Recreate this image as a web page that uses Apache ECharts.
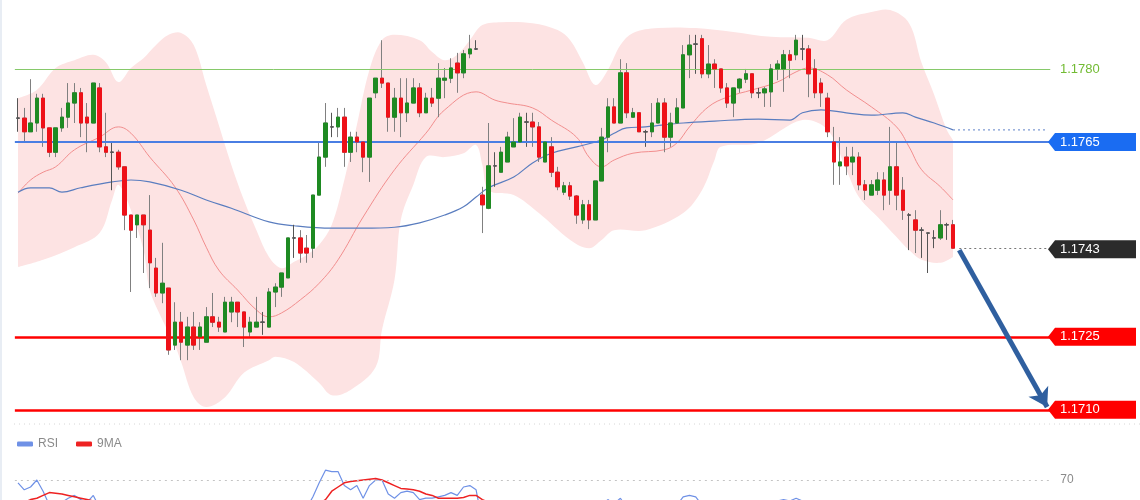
<!DOCTYPE html>
<html><head><meta charset="utf-8">
<script src="https://cdn.jsdelivr.net/npm/echarts@6/dist/echarts.min.js"></script>
<style>html,body{margin:0;padding:0;background:#fff}#c{width:1140px;height:500px}</style>
</head><body><div id="c"></div>
<script>
// ---- data ----
const slotCount = 165; // 150 candles + empty future slots
const categories = Array.from({length: slotCount}, (_, i) => String(i));
// [open, close, low, high]
const ohlc = [
[1.17699,1.17699,1.17671,1.17740],[1.17699,1.17671,1.17650,1.17720],[1.17671,1.17689,1.17671,1.17779],[1.17689,1.17740,1.17671,1.17749],
[1.17740,1.17679,1.17640,1.17749],[1.17679,1.17629,1.17619,1.17679],[1.17629,1.17679,1.17619,1.17679],[1.17679,1.17701,1.17671,1.17720],
[1.17701,1.17730,1.17679,1.17771],[1.17730,1.17751,1.17689,1.17771],[1.17751,1.17689,1.17660,1.17761],[1.17701,1.17689,1.17629,1.17730],
[1.17689,1.17771,1.17689,1.17771],[1.17761,1.17640,1.17629,1.17771],[1.17640,1.17629,1.17619,1.17710],[1.17629,1.17629,1.17551,1.17650],
[1.17629,1.17599,1.17593,1.17634],[1.17599,1.17500,1.17469,1.17599],[1.17500,1.17469,1.17342,1.17500],[1.17480,1.17500,1.17453,1.17500],
[1.17500,1.17480,1.17381,1.17500],[1.17469,1.17402,1.17350,1.17541],[1.17391,1.17340,1.17332,1.17412],[1.17340,1.17360,1.17319,1.17443],
[1.17350,1.17223,1.17213,1.17350],[1.17233,1.17280,1.17223,1.17321],[1.17280,1.17239,1.17202,1.17301],[1.17233,1.17270,1.17202,1.17291],
[1.17270,1.17233,1.17223,1.17301],[1.17250,1.17270,1.17223,1.17280],[1.17239,1.17291,1.17239,1.17311],[1.17291,1.17280,1.17270,1.17340],
[1.17280,1.17270,1.17260,1.17291],[1.17260,1.17321,1.17260,1.17332],[1.17301,1.17321,1.17280,1.17332],[1.17321,1.17301,1.17270,1.17321],
[1.17301,1.17270,1.17229,1.17301],[1.17260,1.17280,1.17250,1.17291],[1.17270,1.17280,1.17270,1.17332],[1.17280,1.17280,1.17254,1.17301],
[1.17270,1.17342,1.17270,1.17350],[1.17342,1.17352,1.17311,1.17360],[1.17352,1.17381,1.17332,1.17381],[1.17371,1.17453,1.17371,1.17453],
[1.17453,1.17453,1.17412,1.17480],[1.17453,1.17422,1.17402,1.17469],[1.17432,1.17422,1.17402,1.17459],[1.17432,1.17541,1.17412,1.17541],
[1.17541,1.17619,1.17541,1.17648],[1.17619,1.17689,1.17599,1.17730],[1.17681,1.17681,1.17660,1.17710],[1.17681,1.17701,1.17660,1.17720],
[1.17701,1.17629,1.17599,1.17720],[1.17629,1.17660,1.17609,1.17671],[1.17660,1.17650,1.17629,1.17671],[1.17650,1.17619,1.17588,1.17650],
[1.17619,1.17740,1.17568,1.17740],[1.17751,1.17781,1.17740,1.17781],[1.17781,1.17771,1.17761,1.17859],[1.17771,1.17701,1.17671,1.17771],
[1.17701,1.17740,1.17671,1.17761],[1.17740,1.17710,1.17660,1.17781],[1.17710,1.17730,1.17691,1.17781],[1.17730,1.17761,1.17730,1.17781],
[1.17761,1.17710,1.17701,1.17771],[1.17710,1.17740,1.17710,1.17751],[1.17740,1.17730,1.17722,1.17761],[1.17740,1.17781,1.17701,1.17812],
[1.17777,1.17781,1.17740,1.17802],[1.17781,1.17802,1.17771,1.17822],[1.17812,1.17792,1.17751,1.17833],[1.17792,1.17831,1.17781,1.17839],
[1.17831,1.17841,1.17822,1.17870],[1.17841,1.17841,1.17839,1.17859],[1.17541,1.17521,1.17463,1.17558],[1.17514,1.17601,1.17512,1.17689],
[1.17601,1.17601,1.17558,1.17629],[1.17588,1.17629,1.17588,1.17640],[1.17609,1.17660,1.17609,1.17671],[1.17640,1.17650,1.17640,1.17699],
[1.17650,1.17701,1.17650,1.17710],[1.17691,1.17691,1.17640,1.17710],[1.17691,1.17681,1.17640,1.17710],[1.17681,1.17619,1.17609,1.17691],
[1.17609,1.17650,1.17609,1.17650],[1.17640,1.17588,1.17578,1.17660],[1.17588,1.17558,1.17551,1.17599],[1.17547,1.17560,1.17541,1.17568],
[1.17560,1.17539,1.17531,1.17568],[1.17539,1.17500,1.17482,1.17541],[1.17490,1.17521,1.17482,1.17531],[1.17521,1.17490,1.17471,1.17531],
[1.17490,1.17570,1.17490,1.17570],[1.17570,1.17660,1.17570,1.17679],[1.17660,1.17722,1.17629,1.17740],[1.17722,1.17689,1.17689,1.17740],
[1.17689,1.17792,1.17689,1.17820],[1.17792,1.17710,1.17699,1.17812],[1.17701,1.17710,1.17701,1.17720],[1.17710,1.17671,1.17671,1.17710],
[1.17671,1.17671,1.17640,1.17675],[1.17671,1.17689,1.17660,1.17730],[1.17689,1.17730,1.17689,1.17740],[1.17730,1.17660,1.17629,1.17740],
[1.17660,1.17689,1.17640,1.17710],[1.17689,1.17720,1.17689,1.17740],[1.17720,1.17829,1.17720,1.17849],[1.17829,1.17849,1.17781,1.17870],
[1.17851,1.17851,1.17790,1.17870],[1.17862,1.17790,1.17781,1.17870],[1.17790,1.17810,1.17781,1.17849],[1.17810,1.17800,1.17761,1.17820],
[1.17800,1.17761,1.17751,1.17800],[1.17761,1.17730,1.17720,1.17771],[1.17730,1.17761,1.17701,1.17761],[1.17761,1.17779,1.17751,1.17781],
[1.17779,1.17790,1.17771,1.17800],[1.17790,1.17751,1.17740,1.17790],[1.17751,1.17751,1.17740,1.17761],[1.17751,1.17759,1.17722,1.17763],
[1.17753,1.17800,1.17722,1.17810],[1.17800,1.17810,1.17777,1.17818],[1.17800,1.17829,1.17753,1.17839],[1.17829,1.17818,1.17781,1.17839],
[1.17829,1.17859,1.17818,1.17870],[1.17841,1.17841,1.17818,1.17870],[1.17841,1.17790,1.17742,1.17849],[1.17800,1.17751,1.17740,1.17820],
[1.17771,1.17751,1.17722,1.17781],[1.17740,1.17671,1.17660,1.17751],[1.17650,1.17609,1.17562,1.17681],[1.17601,1.17609,1.17562,1.17660],
[1.17619,1.17601,1.17582,1.17640],[1.17609,1.17619,1.17582,1.17640],[1.17619,1.17562,1.17551,1.17629],[1.17562,1.17551,1.17531,1.17572],
[1.17541,1.17562,1.17541,1.17572],[1.17551,1.17572,1.17541,1.17588],[1.17572,1.17541,1.17510,1.17588],[1.17551,1.17599,1.17521,1.17681],
[1.17599,1.17541,1.17510,1.17650],[1.17551,1.17510,1.17490,1.17578],[1.17500,1.17500,1.17428,1.17504],[1.17490,1.17469,1.17422,1.17510],
[1.17469,1.17469,1.17412,1.17475],[1.17463,1.17463,1.17381,1.17463],[1.17453,1.17453,1.17432,1.17469],[1.17453,1.17480,1.17449,1.17510],
[1.17480,1.17480,1.17449,1.17484],[1.17480,1.17432,1.17432,1.17490]
];
// [candle index, value]
const ma20 = [[0,1.17545],[2,1.17572],[4,1.17588],[6,1.17599],[9,1.17634],[13,1.17660],[16,1.17681],[18,1.17668],[21,1.17619],[25,1.17558],[28,1.17490],[30,1.17434],[32,1.17387],[35,1.17346],[38,1.17305],[40,1.17291],[42,1.17299],[45,1.17326],[48,1.17360],[51,1.17408],[55,1.17496],[60,1.17593],[65,1.17668],[68,1.17716],[73,1.17753],[76,1.17736],[78,1.17730],[82,1.17720],[85,1.17695],[89,1.17660],[91,1.17619],[93,1.17599],[95,1.17613],[98,1.17627],[103,1.17634],[105,1.17648],[107,1.17681],[110,1.17722],[113,1.17742],[117,1.17757],[121,1.17773],[124,1.17794],[126,1.17802],[129,1.17788],[132,1.17757],[136,1.17722],[140,1.17681],[142,1.17640],[144,1.17593],[147,1.17558],[149,1.17531]];
const maSlow = [[0,1.17547],[2,1.17556],[5,1.17556],[7,1.17547],[10,1.17556],[15,1.17568],[18,1.17572],[21,1.17568],[26,1.17551],[30,1.17531],[34,1.17514],[40,1.17486],[44,1.17478],[50,1.17473],[55,1.17473],[60,1.17475],[64,1.17484],[68,1.17500],[71,1.17517],[73,1.17537],[75,1.17556],[79,1.17578],[82,1.17607],[85,1.17627],[89,1.17640],[93,1.17654],[95,1.17668],[97,1.17679],[100,1.17681],[106,1.17689],[111,1.17693],[118,1.17697],[123,1.17695],[125,1.17710],[128,1.17716],[132,1.17710],[136,1.17705],[141,1.17710],[143,1.17701],[146,1.17689],[149,1.17675]];
const bbUpper = [[0,1.17740],[3,1.17757],[6,1.17802],[9,1.17818],[12,1.17829],[14,1.17814],[16,1.17773],[18,1.17802],[20,1.17822],[22,1.17849],[24,1.17870],[26,1.17874],[28,1.17849],[30,1.17767],[32,1.17685],[34,1.17603],[36,1.17531],[38,1.17469],[40,1.17414],[42,1.17391],[44,1.17404],[46,1.17418],[48,1.17439],[50,1.17480],[52,1.17572],[54,1.17685],[56,1.17798],[58,1.17859],[60,1.17870],[64,1.17859],[66,1.17835],[68,1.17818],[70,1.17829],[72,1.17859],[74,1.17890],[77,1.17896],[82,1.17894],[86,1.17880],[88,1.17859],[90,1.17814],[92,1.17767],[94,1.17798],[96,1.17849],[98,1.17874],[102,1.17884],[108,1.17884],[114,1.17876],[120,1.17866],[126,1.17864],[129,1.17859],[132,1.17901],[136,1.17917],[139,1.17921],[142,1.17894],[144,1.17812],[146,1.17747],[148,1.17675],[149,1.17654]];
const bbLower = [[0,1.17393],[4,1.17408],[9,1.17434],[13,1.17463],[15,1.17531],[16,1.17562],[18,1.17510],[20,1.17428],[21,1.17346],[23,1.17285],[25,1.17233],[26,1.17198],[28,1.17126],[30,1.17106],[33,1.17126],[36,1.17176],[40,1.17202],[41,1.17209],[44,1.17198],[48,1.17155],[50,1.17130],[53,1.17141],[57,1.17188],[58,1.17264],[60,1.17367],[61,1.17490],[63,1.17562],[65,1.17619],[68,1.17619],[71,1.17627],[73,1.17644],[74,1.17603],[75,1.17551],[79,1.17541],[83,1.17504],[88,1.17449],[91,1.17432],[93,1.17449],[95,1.17469],[100,1.17469],[106,1.17504],[109,1.17551],[111,1.17613],[112,1.17640],[118,1.17648],[125,1.17695],[129,1.17675],[132,1.17593],[134,1.17537],[137,1.17496],[140,1.17455],[142,1.17428],[144,1.17408],[147,1.17402],[149,1.17414]];
const rsi = [68,63,65,70,62,52,55,54,57,59,56,54,59,50,48,47,44,36,34,36,35,30,26,28,20,26,25,28,26,28,33,33,32,38,39,38,35,37,38,38,45,47,50,52,52,50,50,58,68,77,76,76,66,63,66,57,66,70,70,60,57,61,62,61,56,57,57,58,59,61,59,65,66,63,40,48,47,50,52,51,54,53,52,46,48,44,41,42,40,36,39,37,45,52,56,53,57,50,50,47,47,49,52,46,49,52,58,59,58,52,54,53,50,48,51,53,54,50,50,51,54,55,56,55,57,55,50,46,45,39,34,35,34,35,31,30,32,34,31,37,32,29,28,27,27,27,27,31,31,28];
const rsiMa9 = [52,54,56,57,59,61,60.5,60,59,58,57,56,55,54,52,51,49,47,45,43,41,39,36,34,31,30,29,28,27,27,27,28,29,30,31,32,33,34,35,36,38,40,42,44,45,46,48,50,53,56,62,65,68,69,69.5,70,70.5,71,70,68,66,64,63.5,63,62,60,59,57,57,57,57,57.5,59,59,56,54,52,50,49,48,48,48,48,49,50,49,48,47,45,43,42,41,41,42,43,45,47,48,49,50,51,51,50,49,49,50,51,52,53,53,54,54,53,53,52,52,52,52,52,51,51,52,53,53,54,54,54,53,52,50,48,46,44,42,39,37,35,34,33,33,33,32,32,31,30,29,29,29,29,29];
const levelValues = [1.1780, 1.1765, 1.1743, 1.1725, 1.1710];
const rsiLevel = 70;
const arrowPath = [[150, 1.17428], [164, 1.17106]];
const lastIndex = 149, extendTo = 164;

// ---- styles / layout ----
const tagColors = ['rgba(0,0,0,0)', '#1a6cf2', '#2b2b2b', '#ff0000', '#ff0000'];
const tagText = ['#72bb33', '#fff', '#fff', '#fff', '#fff'];
const yMax = 1.1794158, yMin = 1.1707094;
const rsiMin = 55.714, rsiMax = 100; // visible slice of the RSI pane
const step = 935 / 149;               // candle spacing in px
const plotLeft = 18 - step / 2, plotWidth = slotCount * step;
const bandSmooth = 0.35;

const chart = echarts.init(document.getElementById('c'), null, {renderer: 'canvas'});
const bodies = ohlc.map(d => [d[0], d[1], Math.min(d[0], d[1]), Math.max(d[0], d[1])]);
const lastClose = ohlc[lastIndex][1];
const slowLast = maSlow[maSlow.length - 1][1];

// smooth curve through pixel points (same scheme as ECharts line smoothing)
function smoothSegs(pts, s) {
  const n = pts.length, cpPrev = [], cpNext = [];
  for (let i = 0; i < n; i++) {
    const p = pts[i];
    if (i === 0 || i === n - 1) { cpPrev[i] = p; cpNext[i] = p; continue; }
    const a = pts[i - 1], b = pts[i + 1];
    const vx = b[0] - a[0], vy = b[1] - a[1];
    const l1 = Math.hypot(p[0] - a[0], p[1] - a[1]), l2 = Math.hypot(b[0] - p[0], b[1] - p[1]);
    const r = l2 / (l1 + l2 || 1);
    cpNext[i] = [p[0] + vx * s * r, p[1] + vy * s * r];
    cpPrev[i] = [p[0] - vx * s * (1 - r), p[1] - vy * s * (1 - r)];
  }
  let d = '';
  for (let i = 0; i < n - 1; i++) {
    const c1 = cpNext[i], c2 = cpPrev[i + 1], e = pts[i + 1];
    d += ' C' + c1[0] + ' ' + c1[1] + ' ' + c2[0] + ' ' + c2[1] + ' ' + e[0] + ' ' + e[1];
  }
  return d;
}

const option = {
  animation: false,
  backgroundColor: '#fff',
  legend: {
    data: ['RSI', '9MA'], left: 12, top: 433, icon: 'roundRect', itemWidth: 16, itemHeight: 5, itemGap: 18,
    textStyle: {color: '#8a8a8a', fontSize: 12, fontFamily: 'Liberation Sans, Arial, sans-serif'}
  },
  grid: [
    {left: plotLeft, width: plotWidth, top: 0, height: 424},
    {left: plotLeft, width: plotWidth, top: 438, height: 62},
    {left: 1048, width: 88, top: 0, height: 424}
  ],
  xAxis: [
    {type: 'category', data: categories, gridIndex: 0, boundaryGap: true, show: false},
    {type: 'category', data: categories, gridIndex: 1, boundaryGap: true, show: false},
    {type: 'value', gridIndex: 2, min: 0, max: 1, show: false}
  ],
  yAxis: [
    {type: 'value', gridIndex: 0, min: yMin, max: yMax, show: false, splitLine: {show: false}},
    {type: 'value', gridIndex: 1, min: rsiMin, max: rsiMax, show: false, splitLine: {show: false}},
    {type: 'value', gridIndex: 2, min: yMin, max: yMax, show: false, splitLine: {show: false}}
  ],
  series: [
    {name: 'bollinger', type: 'custom', xAxisIndex: 0, yAxisIndex: 0, data: [0], z: 1, silent: true,
     renderItem: (params, api) => {
       const up = bbUpper.map(p => api.coord(p));
       const lo = bbLower.map(p => api.coord(p)).reverse();
       const d = 'M' + up[0][0] + ' ' + up[0][1] + smoothSegs(up, bandSmooth) +
         ' L' + lo[0][0] + ' ' + lo[0][1] + smoothSegs(lo, bandSmooth) + ' Z';
       return {type: 'path', shape: {pathData: d}, style: {fill: '#fde3e3', stroke: null}};
     }},
    {name: 'ma20', type: 'line', data: ma20, smooth: 0.4, symbol: 'none', z: 3,
     lineStyle: {width: 1, color: '#f28e8e'}, silent: true},
    {name: 'maSlow', type: 'line', data: maSlow, smooth: 0.4, symbol: 'none', z: 3,
     lineStyle: {width: 1.2, color: '#5a7dbf'}, silent: true},
    {name: 'wicks', type: 'candlestick', data: ohlc, barWidth: 4, z: 4, silent: true,
     itemStyle: {color: '#808080', color0: '#808080', borderColor: '#808080', borderColor0: '#808080', borderColorDoji: '#555', borderWidth: 1}},
    {name: 'bodies', type: 'candlestick', data: bodies, barWidth: 4, z: 5, silent: true,
     itemStyle: {color: '#1e8a22', color0: '#ee1118', borderColor: '#1e8a22', borderColor0: '#ee1118', borderColorDoji: '#555', borderWidth: 1}},
    {name: 'maSlowExt', type: 'line', data: [[lastIndex, slowLast], [extendTo, slowLast]], symbol: 'none', z: 6,
     lineStyle: {width: 1.2, color: '#7f9bd4', type: [2, 3]}, silent: true,
     markLine: {silent: true, precision: 6, symbol: ['none', 'none'], label: {show: false},
       data: [
         {yAxis: levelValues[0], lineStyle: {color: '#86c96a', width: 1, type: 'solid'}},
         {yAxis: levelValues[1], lineStyle: {color: '#4a7ee3', width: 2, type: 'solid'}},
         {yAxis: levelValues[3], lineStyle: {color: '#ff0000', width: 2.5, type: 'solid'}},
         {yAxis: levelValues[4], lineStyle: {color: '#ff0000', width: 2.5, type: 'solid'}},
         [{coord: [lastIndex + 1, lastClose], lineStyle: {color: '#777', width: 1, type: [2, 3]}}, {coord: [extendTo, lastClose]}]
       ]}},
    {name: 'arrow', type: 'line', data: [], z: 7, silent: true, xAxisIndex: 0, yAxisIndex: 0,
     markLine: {silent: true, precision: 6, symbol: ['none', 'arrow'], symbolSize: [17, 18], label: {show: false},
       lineStyle: {color: '#2f5f9f', width: 5, type: 'solid'},
       data: [[{coord: arrowPath[0]}, {coord: arrowPath[1]}]]}},
    {name: 'tags', type: 'scatter', xAxisIndex: 2, yAxisIndex: 2, silent: true, z: 10,
     symbol: 'path://M0,9 L7,0 L88,0 L88,18 L7,18 Z', symbolSize: [88, 18],
     itemStyle: {opacity: 1},
     data: levelValues.map((v, i) => ({value: [0.5, v], itemStyle: {color: tagColors[i], opacity: 1},
       label: {color: tagText[i]}})),
     label: {show: true, position: 'insideLeft', distance: 12, fontSize: 13,
       fontFamily: 'Liberation Sans, Arial, sans-serif', formatter: p => p.value[1].toFixed(4)}},
    {name: 'RSI', type: 'line', xAxisIndex: 1, yAxisIndex: 1, data: rsi, symbol: 'none', z: 3,
     lineStyle: {width: 1.2, color: '#6f91e6'}, itemStyle: {color: '#6f91e6'}, silent: true,
     markLine: {silent: true, symbol: ['none', 'none'],
       lineStyle: {color: '#c4c4c4', width: 1, type: [2, 4]},
       label: {show: true, position: 'end', distance: 10, color: '#8a8a8a', fontSize: 12,
         fontFamily: 'Liberation Sans, Arial, sans-serif', formatter: String(rsiLevel)},
       data: [{yAxis: rsiLevel}]}},
    {name: '9MA', type: 'line', xAxisIndex: 1, yAxisIndex: 1, data: rsiMa9, symbol: 'none', z: 3,
     lineStyle: {width: 1.5, color: '#ee2222'}, itemStyle: {color: '#ee2222'}, silent: true}
  ],
  graphic: [
    {type: 'rect', shape: {x: 0, y: 0, width: 2, height: 500}, style: {fill: '#e8edf4'}, z: 100},
    {type: 'line', shape: {x1: 14, y1: 424, x2: 1140, y2: 424}, style: {stroke: '#d6d6d6', lineWidth: 1, lineDash: [1, 4]}, z: 100}
  ]
};
chart.setOption(option);
</script></body></html>
